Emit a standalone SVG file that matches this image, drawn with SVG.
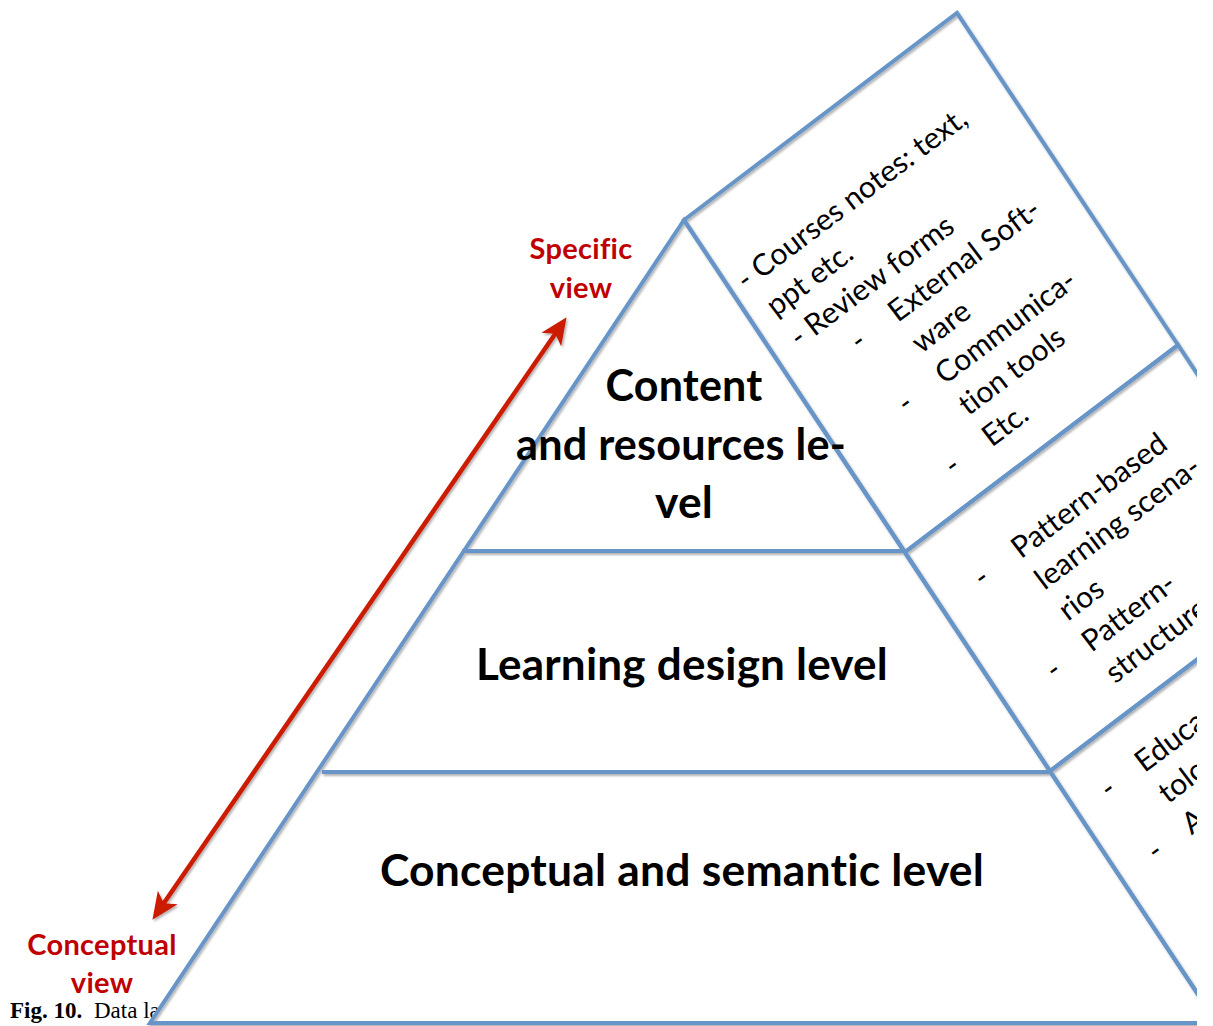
<svg xmlns="http://www.w3.org/2000/svg" width="1213" height="1026" viewBox="0 0 1213 1026">
<style>
text{font-variant-ligatures:none;font-feature-settings:"liga" 0,"clig" 0}
.edge{fill:none;stroke:#6895C8;stroke-width:4;stroke-linejoin:miter}
.fillw{fill:#fff;stroke:none}
.big{font-family:Lato,"Open Sans",sans-serif;font-weight:bold;font-size:44px;fill:#000;text-anchor:middle;letter-spacing:0.2px}
.small{font-family:Lato,"Open Sans",sans-serif;font-size:30px;fill:#000}
.red{font-family:Lato,"Open Sans",sans-serif;font-weight:bold;font-size:29px;fill:#C00000;text-anchor:middle;letter-spacing:0.3px}
.cap{font-family:"Liberation Serif","Times New Roman",serif;font-size:23px;fill:#000}
</style>
<defs>
<clipPath id="crop"><rect x="0" y="0" width="1197" height="1026"/></clipPath>
<filter id="sh" x="-5%" y="-5%" width="110%" height="110%">
<feDropShadow dx="1.5" dy="2" stdDeviation="1.2" flood-color="#000" flood-opacity="0.3"/>
</filter>
<marker id="ah" viewBox="-15 -15 32 30" markerWidth="32" markerHeight="30" refX="0" refY="0" orient="auto-start-reverse" markerUnits="userSpaceOnUse">
<path d="M16,0 L-11,-12 L-4,0 L-11,12 Z" fill="#CC1A00"/>
</marker>
</defs>

<rect width="1213" height="1026" fill="#fff"/>

<text id="caption" class="cap" x="10" y="1018"><tspan font-weight="bold">Fig. 10.</tspan><tspan x="94">Data la</tspan></text>

<g clip-path="url(#crop)">
<g id="fills">
<polygon class="fillw" points="684,220 150,1023 1217,1023"/>
<polygon class="fillw" points="684,220 957,13 1178,345 905,552"/>
<polygon class="fillw" points="905,552 1178,345 1323,564 1050,771"/>
<polygon class="fillw" points="1050,771 1323,564 1490,816 1217,1023"/>
</g>
<g id="connectors" filter="url(#sh)">
<polygon id="pyramid" class="edge" points="684,220 150,1023 1217,1023"/>
<line class="edge" x1="462" y1="551" x2="905" y2="551"/>
<line class="edge" x1="322" y1="772" x2="1050" y2="772"/>
<polygon id="box-content" class="edge" points="684,220 957,13 1178,345 905,552"/>
<polygon id="box-design" class="edge" points="905,552 1178,345 1323,564 1050,771"/>
<polygon id="box-concept" class="edge" points="1050,771 1323,564 1490,816 1217,1023"/>
</g>

<g id="level-content">
<text class="big" x="684" y="401" textLength="157" lengthAdjust="spacingAndGlyphs">Content</text>
<text class="big" x="681" y="460" textLength="330" lengthAdjust="spacingAndGlyphs">and resources le-</text>
<text class="big" x="684" y="518" textLength="58" lengthAdjust="spacingAndGlyphs">vel</text>
</g>
<g id="level-design">
<text class="big" x="682" y="680" textLength="412" lengthAdjust="spacingAndGlyphs">Learning design level</text>
</g>
<g id="level-conceptual">
<text class="big" x="682" y="886" textLength="604" lengthAdjust="spacingAndGlyphs">Conceptual and semantic level</text>
</g>

<g id="box-texts" transform="translate(746,291) rotate(-37)">
<text class="small" x="0" y="0">- Courses notes: text,</text>
<text class="small" x="8" y="39">ppt etc.</text>
<text class="small" x="8" y="78">- Review forms</text>
<text class="small" x="54" y="117">-</text><text class="small" x="102" y="117">External Soft-</text>
<text class="small" x="102" y="156">ware</text>
<text class="small" x="54" y="195">-</text><text class="small" x="102" y="195">Communica-</text>
<text class="small" x="102" y="234">tion tools</text>
<text class="small" x="54" y="273">-</text><text class="small" x="102" y="273">Etc.</text>

<text class="small" x="10" y="380">-</text><text class="small" x="58" y="380">Pattern-based</text>
<text class="small" x="58" y="419">learning scena-</text>
<text class="small" x="58" y="458">rios</text>
<text class="small" x="12" y="497">-</text><text class="small" x="58" y="497">Pattern-</text>
<text class="small" x="58" y="536">structure</text>

<text class="small" x="-16" y="625">-</text><text class="small" x="28" y="625">Educa</text>
<text class="small" x="28" y="664">tolo</text>
<text class="small" x="-16" y="703">-</text><text class="small" x="28" y="703">A</text>
</g>
</g>

<g id="view-arrow" filter="url(#sh)">
<line x1="557.5" y1="330.4" x2="161.5" y2="906.6" stroke="#CC1A00" stroke-width="4.5" marker-start="url(#ah)" marker-end="url(#ah)"/>
</g>

<g id="label-specific">
<text class="red" x="581" y="259">Specific</text>
<text class="red" x="581" y="298">view</text>
</g>
<g id="label-conceptual">
<text class="red" x="102" y="955">Conceptual</text>
<text class="red" x="102" y="993">view</text>
</g>
</svg>
